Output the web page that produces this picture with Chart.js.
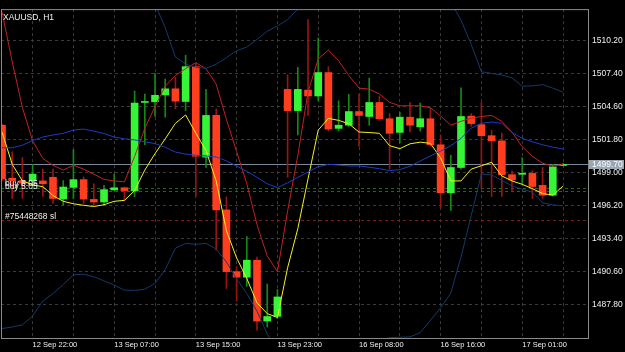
<!DOCTYPE html>
<html>
<head>
<meta charset="utf-8">
<script src="https://cdn.jsdelivr.net/npm/chart.js@4.4.1/dist/chart.umd.min.js"></script>
<style>
html,body{margin:0;padding:0;background:#000;overflow:hidden}
#wrap{width:625px;height:352px;position:relative}
</style>
</head>
<body>
<div id="wrap"><canvas id="c" width="625" height="352"></canvas></div>
<script>
// ---- data ----
const symbolTitle = 'XAUUSD, H1';
const open = [1503.02,1498.52,1498.32,1498.29,1498.29,1498.60,1496.75,1497.74,1498.40,1496.72,
  1496.50,1497.52,1497.71,1497.44,1504.95,1505.01,1505.59,1506.11,1505.03,1507.99,
  1500.31,1503.85,1495.83,1490.59,1490.12,1491.56,1486.39,1486.80,1506.06,1504.26,
  1506.00,1505.50,1507.49,1502.75,1503.02,1504.18,1503.76,1504.95,1503.57,1502.41,
  1503.70,1502.88,1503.57,1501.36,1497.28,1499.43,1503.79,1503.07,1502.13,1501.69,
  1498.82,1498.85,1498.93,1497.91,1497.08,1499.60];
const high = [1503.10,1500.78,1500.28,1499.70,1499.29,1499.29,1498.32,1500.95,1498.63,1498.05,
  1497.91,1498.87,1497.77,1505.92,1505.67,1507.43,1506.94,1507.10,1508.96,1508.32,
  1506.06,1504.40,1496.94,1491.00,1493.57,1491.83,1489.54,1489.07,1507.30,1507.93,
  1511.99,1510.42,1507.99,1505.09,1505.64,1505.64,1507.02,1505.50,1504.01,1504.12,
  1504.95,1504.90,1504.45,1502.19,1500.47,1506.19,1504.01,1504.95,1502.60,1502.35,
  1499.15,1500.26,1499.15,1499.43,1499.70,1499.79];
const low = [1498.30,1496.80,1496.80,1497.88,1496.97,1496.39,1496.25,1496.80,1496.39,1496.25,
  1496.25,1497.49,1496.66,1496.97,1501.36,1503.76,1503.70,1504.40,1504.26,1496.97,
  1499.43,1492.41,1489.16,1488.10,1489.35,1485.62,1485.89,1486.61,1498.60,1502.19,
  1503.85,1505.09,1502.52,1502.52,1502.93,1501.22,1503.02,1503.43,1499.29,1501.50,
  1502.46,1502.52,1501.22,1495.98,1495.78,1499.29,1502.93,1497.63,1496.97,1496.97,
  1497.36,1498.05,1496.80,1496.80,1497.01,1499.57];
const close = [1498.46,1498.32,1498.10,1498.87,1498.05,1496.80,1497.77,1498.40,1496.75,1496.50,
  1497.55,1497.71,1497.47,1504.90,1505.01,1505.56,1506.11,1505.06,1507.99,1500.39,
  1503.85,1495.83,1490.59,1490.12,1491.56,1486.39,1486.78,1488.44,1504.26,1506.06,
  1505.50,1507.49,1502.69,1503.02,1504.18,1503.85,1504.95,1503.57,1502.33,1503.70,
  1503.02,1503.57,1501.36,1497.28,1499.43,1503.76,1503.16,1502.13,1501.69,1498.82,
  1498.38,1498.93,1497.82,1497.08,1499.48,1499.70];
const bandUpper = [1516.46,1516.33,1516.57,1516.64,1515.94,1515.65,1515.17,1514.88,1515.01,1514.88,
  1514.82,1514.59,1514.70,1514.55,1514.12,1513.32,1511.30,1508.80,1508.20,1507.95,
  1507.85,1508.20,1508.75,1509.35,1509.65,1510.30,1511.00,1511.44,1511.99,1512.88,
  1513.44,1514.20,1514.70,1514.68,1514.52,1514.47,1514.20,1513.86,1513.34,1513.48,
  1514.03,1514.55,1514.37,1514.12,1513.50,1511.94,1509.88,1507.55,1507.42,1507.28,
  1507.04,1506.33,1506.36,1506.46,1506.17,1505.83];
const bandMiddle = [1501.11,1501.11,1501.32,1501.73,1502.02,1502.19,1502.33,1502.60,1502.69,1502.52,
  1502.31,1502.02,1501.86,1501.77,1501.61,1501.46,1501.15,1500.74,1500.57,1500.47,
  1500.41,1500.32,1499.99,1499.56,1499.10,1498.59,1498.05,1497.72,1498.13,1498.59,
  1499.04,1499.50,1499.70,1499.64,1499.56,1499.56,1499.45,1499.33,1499.16,1499.25,
  1499.54,1499.98,1500.41,1500.82,1501.28,1501.90,1502.77,1503.18,1503.29,1503.18,
  1502.40,1501.90,1501.61,1501.36,1501.15,1501.00];
const bandLower = [1485.76,1485.89,1486.07,1486.82,1488.10,1488.73,1489.49,1490.32,1490.37,1490.16,
  1489.80,1489.45,1489.02,1488.99,1489.10,1489.60,1490.76,1492.58,1492.99,1492.91,
  1492.99,1492.50,1491.42,1489.97,1488.73,1487.23,1485.29,1484.00,1484.27,1484.30,
  1484.64,1484.80,1484.70,1484.60,1484.60,1484.65,1484.70,1484.80,1484.98,1485.02,
  1485.05,1485.41,1486.45,1487.52,1488.77,1491.83,1495.35,1498.87,1498.79,1498.34,
  1497.86,1497.59,1497.34,1496.43,1496.26,1496.17];
const maYellow = [1502.44,1499.70,1498.29,1497.96,1497.80,1497.05,1496.56,1496.35,1496.22,1496.12,
  1496.27,1496.56,1496.64,1497.47,1499.21,1500.61,1501.86,1503.18,1503.89,1502.35,
  1500.86,1498.29,1494.07,1491.75,1490.01,1487.94,1487.03,1486.70,1490.92,1494.24,
  1498.46,1502.60,1503.60,1503.43,1503.14,1502.44,1502.40,1502.33,1501.28,1501.03,
  1501.44,1501.58,1501.48,1500.24,1498.29,1498.29,1499.29,1499.58,1499.87,1498.71,
  1498.29,1498.00,1497.63,1497.22,1497.09,1497.84];
const maRed = [1512.63,1508.40,1504.51,1501.69,1500.20,1499.62,1499.21,1499.62,1499.29,1498.87,
  1498.42,1498.29,1498.21,1500.37,1502.77,1504.59,1506.33,1507.24,1507.82,1508.32,
  1507.82,1506.50,1503.51,1500.78,1498.05,1494.57,1491.92,1490.59,1495.73,1500.45,
  1505.83,1508.65,1509.40,1508.49,1507.24,1506.17,1506.08,1505.67,1504.96,1504.67,
  1504.67,1504.67,1504.51,1503.80,1503.02,1503.35,1503.60,1503.76,1503.85,1503.35,
  1502.44,1501.19,1500.37,1499.79,1499.54,1499.70];
const priceTicks = [1487.80,1490.60,1493.40,1496.20,1499.00,1501.80,1504.60,1507.40,1510.20];
const gridBars = [3,7,11,15,19,23,27,31,35,39,43,47,51,55];
const timeTickBars = [3,11,19,27,35,43,51];
const timeTickLabels = ['12 Sep 22:00','13 Sep 07:00','13 Sep 15:00','13 Sep 23:00','16 Sep 08:00','16 Sep 16:00','17 Sep 01:00'];
const bidPrice = 1499.70;
const buyLevels = [1497.71, 1497.44];
const buyText = 'buy 5.05';
const slLevel = 1494.96;
const slText = '#75448268 sl';

// ---- drawing ----
const FONT = '"Liberation Sans", Arial, sans-serif';
const idx = open.map((_, i) => i);
const isUp = idx.map(i => close[i] >= open[i]);

const overlay = {
  id: 'overlay',
  beforeDraw(chart) {
    const c = chart.ctx; c.save(); c.fillStyle = '#000'; c.fillRect(0, 0, chart.width, chart.height); c.restore();
  },
  beforeDatasetsDraw(chart) {
    const {ctx, chartArea: a, scales: {y}} = chart;
    ctx.save();
    ctx.beginPath(); ctx.rect(a.left, a.top, a.right - a.left, a.bottom - a.top); ctx.clip();
    const hl = (v, color, dash) => {
      const yy = Math.round(y.getPixelForValue(v)) + 0.5;
      ctx.strokeStyle = color; ctx.setLineDash(dash); ctx.lineWidth = 1;
      ctx.beginPath(); ctx.moveTo(a.left, yy); ctx.lineTo(a.right, yy); ctx.stroke();
    };
    buyLevels.forEach(v => hl(v, '#1d6a1d', [3, 3]));
    hl(slLevel, '#7a1c1c', [3, 3]);
    hl(bidPrice, '#778899', []);
    ctx.restore();
  },
  afterDatasetsDraw(chart) {
    const {ctx, chartArea: a, scales: {y}} = chart;
    ctx.save();
    ctx.fillStyle = '#f0f0f0';
    ctx.font = '8.5px ' + FONT;
    ctx.textBaseline = 'alphabetic';
    ctx.textAlign = 'left';
    ctx.fillText(symbolTitle, a.left + 2, a.top + 11);
    buyLevels.forEach(v => ctx.fillText(buyText, a.left + 4, y.getPixelForValue(v) - 1.5));
    ctx.fillText(slText, a.left + 4, y.getPixelForValue(slLevel) - 1.5);
    ctx.restore();
  },
  afterDraw(chart) {
    const {ctx, chartArea: a, scales: {y}} = chart;
    ctx.save();
    ctx.strokeStyle = '#8a8a8a'; ctx.lineWidth = 1; ctx.setLineDash([]);
    ctx.strokeRect(a.left + 0.5, a.top + 0.5, a.right - a.left, a.bottom - a.top);
    const yy = Math.round(y.getPixelForValue(bidPrice));
    ctx.fillStyle = '#9aa6b2';
    ctx.fillRect(a.right + 1, yy - 4, 35, 9);
    ctx.fillStyle = '#ffffff';
    ctx.font = '8.5px ' + FONT;
    ctx.textBaseline = 'middle';
    ctx.textAlign = 'left';
    ctx.fillText(bidPrice.toFixed(2), a.right + 4, yy + 0.5);
    ctx.restore();
  }
};

const lineDs = (label, arr, color) => ({
  type: 'line', label, data: idx.map(i => ({x: i, y: arr[i]})),
  borderColor: color, borderWidth: 1, pointRadius: 0, tension: 0, order: 0, clip: 0
});

new Chart(document.getElementById('c'), {
  type: 'bar',
  data: {
    datasets: [
      lineDs('upper', bandUpper, '#123a6a'),
      lineDs('lower', bandLower, '#123a6a'),
      lineDs('middle', bandMiddle, '#1f3ac4'),
      lineDs('red', maRed, '#c42020'),
      lineDs('yellow', maYellow, '#f2f21c'),
      {
        type: 'bar', label: 'body', data: idx.map(i => ({x: i, y: [open[i], close[i]]})),
        backgroundColor: idx.map(i => isUp[i] ? '#36f536' : '#ff3d1f'),
        borderWidth: 0, barThickness: 7, grouped: false, minBarLength: 1, order: 1
      },
      {
        type: 'bar', label: 'wick', data: idx.map(i => ({x: i, y: [low[i], high[i]]})),
        backgroundColor: idx.map(i => isUp[i] ? '#128a12' : '#9a1414'),
        borderWidth: 0, barThickness: 1, grouped: false, order: 2
      }
    ]
  },
  options: {
    responsive: false, animation: false, devicePixelRatio: 1, events: [],
    layout: {padding: {top: 1, left: 1, right: 0, bottom: 0}},
    plugins: {legend: {display: false}, tooltip: {enabled: false}},
    scales: {
      x: {
        type: 'linear', min: -0.1, max: 57.45, offset: false,
        afterBuildTicks: s => { s.ticks = gridBars.map(v => ({value: v})); },
        afterFit: s => { s.height = 14; },
        ticks: {
          autoSkip: false, maxRotation: 0, minRotation: 0, align: 'start', padding: 2,
          color: '#f0f0f0', font: {family: FONT, size: 7.5},
          callback: v => { const k = timeTickBars.indexOf(v); return k >= 0 ? timeTickLabels[k] : ''; }
        },
        grid: {color: '#3a3a3a', lineWidth: 1, drawTicks: false, offset: false},
        border: {display: false, dash: [3, 3]}
      },
      y: {
        type: 'linear', position: 'right', min: 1484.956, max: 1512.876, beginAtZero: false,
        afterBuildTicks: s => { s.ticks = priceTicks.map(v => ({value: v})); },
        afterFit: s => { s.width = 37; },
        ticks: {
          padding: 4, color: '#f0f0f0', font: {family: FONT, size: 8.5},
          callback: v => Number(v).toFixed(2)
        },
        grid: {color: '#3a3a3a', lineWidth: 1, drawTicks: false},
        border: {display: false, dash: [3, 3]}
      }
    }
  },
  plugins: [overlay]
});
</script>
</body>
</html>
